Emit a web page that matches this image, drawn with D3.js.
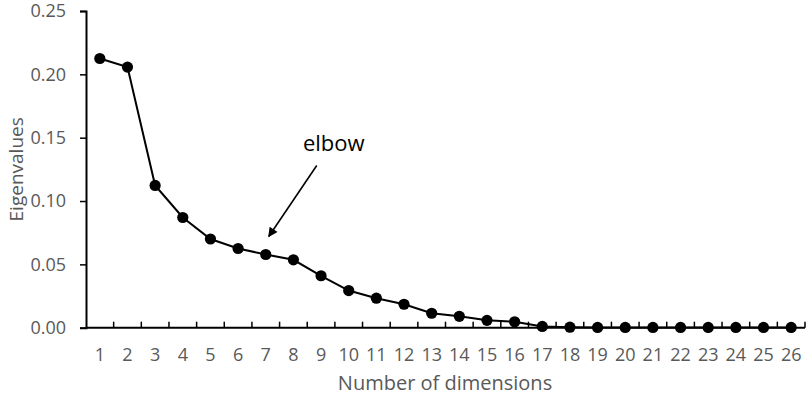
<!DOCTYPE html>
<html><head><meta charset="utf-8">
<script src="https://cdn.jsdelivr.net/npm/d3@7"></script>
<style>body{margin:0;background:#fff;} text{font-family:"Open Sans","Liberation Sans",sans-serif;}</style>
</head><body>
<svg id="c" width="809" height="397"></svg>
<script>
const categories = ["1","2","3","4","5","6","7","8","9","10","11","12","13","14","15","16","17","18","19","20","21","22","23","24","25","26"];
const eigenvalues = [0.2125,0.2057,0.1123,0.087,0.070,0.0625,0.0578,0.0536,0.041,0.0293,0.0233,0.0185,0.0114,0.009,0.0058,0.0047,0.001,0.0004,0.0002,0.0002,0.0002,0.0002,0.0002,0.0002,0.0002,0.0002];
const yTicks = [0,0.05,0.10,0.15,0.20,0.25];
const annotation = "elbow";
const xTitle = "Number of dimensions";
const yTitle = "Eigenvalues";

const svg = d3.select("#c");
const L = 86, R = 805, T = 11, B = 327.7;
const x = d3.scaleBand().domain(categories).range([L, R]);
const y = d3.scaleLinear().domain([0, 0.25]).range([B, T]);
const grey = "#595959";

// y axis
const ya = svg.append("g").attr("transform", `translate(${L},0)`)
  .call(d3.axisLeft(y).tickValues(yTicks).tickFormat(d3.format(".2f")).tickSize(6).tickPadding(14));
ya.select(".domain").attr("stroke","#000").attr("stroke-width",2);
ya.selectAll(".tick line").attr("stroke","#000").attr("stroke-width",1.5);
ya.selectAll(".tick text").attr("fill",grey).style("font-size","18px").style("font-family","'Open Sans',sans-serif");

// x axis
const xa = svg.append("g").attr("transform", `translate(0,${B})`);
xa.append("line").attr("x1",L).attr("x2",R).attr("y1",0).attr("y2",0).attr("stroke","#000").attr("stroke-width",2);
xa.selectAll("line.t").data(categories).enter().append("line").attr("class","t")
  .attr("x1",d=>x(d)+x.bandwidth()).attr("x2",d=>x(d)+x.bandwidth())
  .attr("y1",0).attr("y2",-6).attr("stroke","#000").attr("stroke-width",1.5);
xa.selectAll("text").data(categories).enter().append("text")
  .attr("x",d=>x(d)+x.bandwidth()/2).attr("y",33.5).attr("text-anchor","middle")
  .attr("fill",grey).style("font-size","18px").text(d=>d);

// titles
svg.append("text").attr("x",445).attr("y",390).attr("text-anchor","middle")
  .attr("fill",grey).style("font-size","20px").text(xTitle);
svg.append("text").attr("transform",`translate(23,${(T+B)/2}) rotate(-90)`).attr("text-anchor","middle")
  .attr("fill",grey).style("font-size","19px").text(yTitle);

// line + points
const line = d3.line().x((d,i)=>x(categories[i])+x.bandwidth()/2).y(d=>y(d));
svg.append("path").datum(eigenvalues).attr("d",line).attr("fill","none").attr("stroke","#000").attr("stroke-width",2);
svg.selectAll("circle").data(eigenvalues).enter().append("circle")
  .attr("cx",(d,i)=>x(categories[i])+x.bandwidth()/2).attr("cy",d=>y(d)).attr("r",5.6).attr("fill","#000");

// annotation
const defs = svg.append("defs");
defs.append("marker").attr("id","ah").attr("viewBox","0 0 10 10").attr("refX",9).attr("refY",5)
  .attr("markerWidth",7).attr("markerHeight",6).attr("markerUnits","strokeWidth").attr("orient","auto")
  .append("path").attr("d","M0,0 L10,5 L0,10 z").attr("fill","#000");
const ax = x("7")+x.bandwidth()/2, ay = y(0.0578);
svg.append("line").attr("x1",ax+51).attr("y1",ay-89).attr("x2",ax+3).attr("y2",ay-18)
  .attr("stroke","#000").attr("stroke-width",1.6).attr("marker-end","url(#ah)");
svg.append("text").attr("x",ax+68).attr("y",ay-103).attr("text-anchor","middle")
  .attr("fill","#000").style("font-size","22px").text(annotation);
</script>
</body></html>
